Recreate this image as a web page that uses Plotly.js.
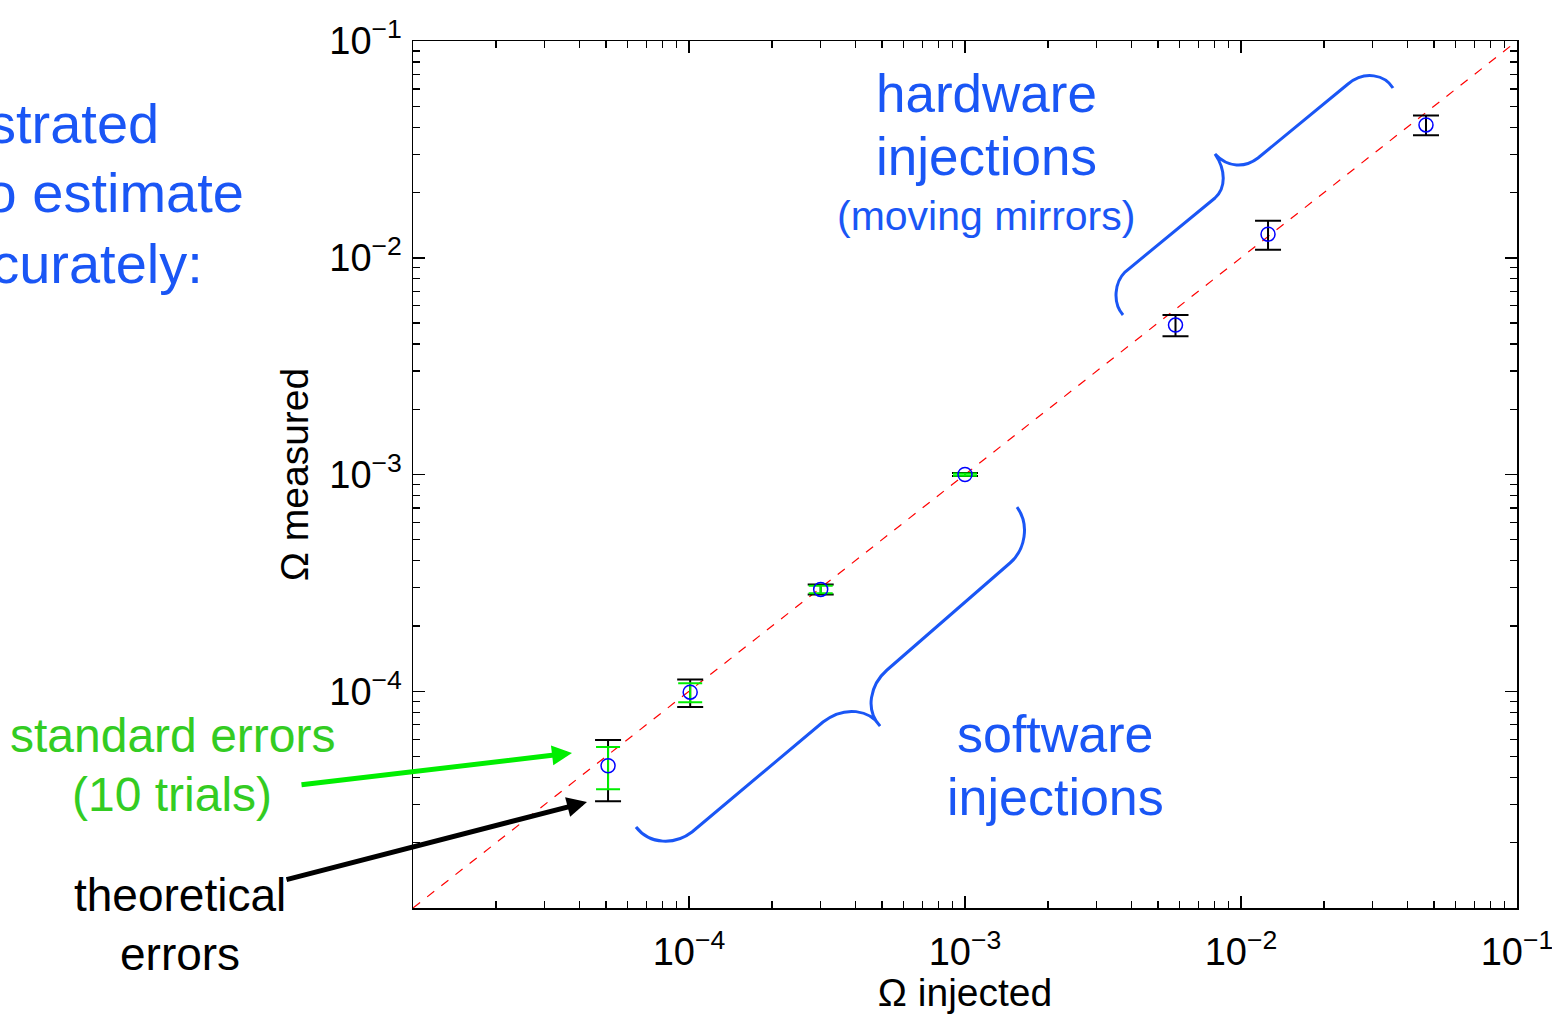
<!DOCTYPE html>
<html>
<head>
<meta charset="utf-8">
<script src="https://cdn.plot.ly/plotly-3.0.1.min.js"></script>
<style>html,body{margin:0;padding:0;background:#fff;}#chart{width:1552px;height:1014px;}</style>
</head>
<body>
<div id="chart"></div>
<script>
// ---- data ----
const omegaInjected = [5.09e-5, 1.01e-4, 3.0e-4, 1.0e-3, 5.79e-3, 1.253e-2, 4.68e-2];
const omegaMeasured = [4.53e-5, 9.9e-5, 2.95e-4, 1.0e-3, 4.89e-3, 1.285e-2, 4.10e-2];
const theoreticalErr = [1.42e-5, 1.44e-5, 1.55e-5, 1.6e-5, 5.5e-4, 1.95e-3, 4.3e-3];
const softwareInjected = [5.09e-5, 1.01e-4, 3.0e-4, 1.0e-3];
const softwareMeasured = [4.53e-5, 9.9e-5, 2.95e-4, 1.0e-3];
const standardErr = [1.0e-5, 1.0e-5, 1.2e-5, 1.2e-5];
const identityLine = [1e-5, 1e-1];
const tickValues = [1e-4, 1e-3, 1e-2, 1e-1];
const tickLabels = ['10<sup>\u22124</sup>', '10<sup>\u22123</sup>', '10<sup>\u22122</sup>', '10<sup>\u22121</sup>'];

// ---- layout helpers ----
const FONT = 'Liberation Sans, Arial, sans-serif';
const BLUE = '#1a56f5';
const L = 413, R = 1517, T = 41, B = 908;
const PW = R - L, PH = B - T;
const px = x => (x - L) / PW;
const py = y => (B - y) / PH;

const minorVals = [];
for (let d = -5; d < -1; d++) for (let k = 2; k <= 9; k++) minorVals.push(k * Math.pow(10, d));

function toPath(cmds) {
  return cmds.map(c => {
    let s = c[0];
    const pts = [];
    for (let i = 1; i < c.length; i += 2) pts.push(px(c[i]).toFixed(5) + ',' + py(c[i + 1]).toFixed(5));
    return s + pts.join(' ');
  }).join(' ');
}
const hardwareBrace = [['M',1393,88],['C',1385,75,1365,70,1348,84],['L',1258,158],['C',1245,168,1228,168,1215,154],['C',1226,170,1226,188,1215,198],['L',1125,272],['C',1115,282,1112,302,1123,315]];
const softwareBrace = [['M',1017,507],['C',1030,525,1025,550,1010,563],['L',887,670],['C',870,685,865,710,880,726],['C',870,710,845,705,823,722],['L',692,832],['C',675,845,650,845,636,827]];

function txt(text, cx, cy, size, color, xanchor) {
  return {text: text, xref: 'paper', yref: 'paper', x: px(cx), y: py(cy),
    xanchor: xanchor || 'center', yanchor: 'middle', showarrow: false, borderpad: 0,
    font: {family: FONT, size: size, color: color}};
}
function arrow(hx, hy, tx, ty, color) {
  return {text: '', xref: 'paper', yref: 'paper', x: px(hx), y: py(hy),
    ax: tx - hx, ay: ty - hy, axref: 'pixel', ayref: 'pixel', showarrow: true,
    arrowhead: 2, arrowsize: 0.8, arrowwidth: 5, arrowcolor: color, standoff: 0};
}

const traces = [
  {x: identityLine, y: identityLine, mode: 'lines', line: {color: '#ff0000', width: 1.2, dash: '9px,9px'}, hoverinfo: 'skip'},
  {x: omegaInjected, y: omegaMeasured, mode: 'markers', marker: {size: 14, color: 'rgba(0,0,0,0)'},
   error_y: {type: 'data', array: theoreticalErr, visible: true, color: '#000000', thickness: 2, width: 13}},
  {x: softwareInjected, y: softwareMeasured, mode: 'markers', marker: {size: 14, color: 'rgba(0,0,0,0)'},
   error_y: {type: 'data', array: standardErr, visible: true, color: '#00ee00', thickness: 2, width: 12}},
  {x: omegaInjected, y: omegaMeasured, mode: 'markers', marker: {symbol: 'circle-open', size: 14, color: '#0000ff', line: {width: 1.5, color: '#0000ff'}}}
];

const axisCommon = {
  type: 'log', range: [-5, -1], showline: true, linecolor: '#000', linewidth: 1.5, mirror: 'allticks',
  ticks: 'inside', ticklen: 12, tickwidth: 1.5, tickcolor: '#000', showgrid: false, zeroline: false,
  tickmode: 'array', tickvals: tickValues, ticktext: tickLabels, ticklabeloverflow: 'allow',
  tickfont: {family: FONT, size: 38, color: '#000'},
  minor: {tickmode: 'array', tickvals: minorVals, ticks: 'inside', ticklen: 7, tickwidth: 1.2, tickcolor: '#000', showgrid: false}
};

const layout = {
  width: 1552, height: 1014, showlegend: false,
  paper_bgcolor: '#fff', plot_bgcolor: '#fff',
  margin: {l: L, r: 1552 - R, t: T, b: 1014 - B, pad: 0},
  font: {family: FONT, color: '#000'},
  xaxis: Object.assign({}, axisCommon, {ticklabelstandoff: 10,
    title: {text: '\u03a9 injected', font: {family: FONT, size: 39}, standoff: 6}}),
  yaxis: Object.assign({}, axisCommon, {ticklabelstandoff: 2,
    title: {text: '\u03a9 measured', font: {family: FONT, size: 39}, standoff: 8}}),
  shapes: [
    {type: 'path', xref: 'paper', yref: 'paper', path: toPath(hardwareBrace), line: {color: BLUE, width: 3}},
    {type: 'path', xref: 'paper', yref: 'paper', path: toPath(softwareBrace), line: {color: BLUE, width: 3}}
  ],
  annotations: [
    txt('strated', 160, 143 - 19.6, 56, BLUE, 'right'),
    txt('to estimate', 245, 212 - 19.6, 56, BLUE, 'right'),
    txt('accurately:', 204, 283 - 19.6, 56, BLUE, 'right'),
    txt('hardware', 986, 112 - 18.5, 53, BLUE),
    txt('injections', 986, 175 - 18.5, 53, BLUE),
    txt('(moving mirrors)', 986, 230 - 14.5, 41, BLUE),
    txt('software', 1055, 752 - 18.2, 52, BLUE),
    txt('injections', 1055, 815 - 18.2, 52, BLUE),
    txt('standard errors', 172, 752 - 16.8, 48, '#33cc22'),
    txt('(10 trials)', 172, 811 - 16.8, 48, '#33cc22'),
    txt('theoretical', 180, 911 - 16.1, 46, '#000'),
    txt('errors', 180, 970 - 16.1, 46, '#000'),
    arrow(572, 753, 300, 785, '#00ee00'),
    arrow(587, 802, 285, 880, '#000000')
  ]
};

Plotly.newPlot('chart', traces, layout, {displayModeBar: false, staticPlot: true});
</script>
</body>
</html>
